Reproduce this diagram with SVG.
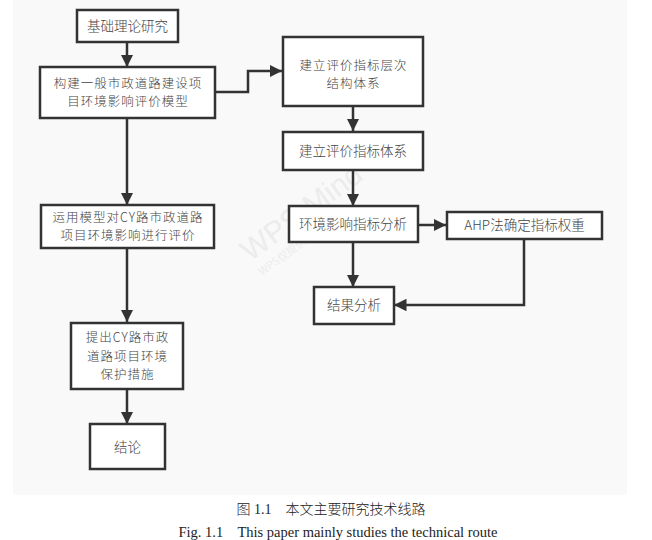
<svg xmlns="http://www.w3.org/2000/svg" width="652" height="540" viewBox="0 0 652 540">
<defs>
<style>
.box{fill:#fff;stroke:#333;stroke-width:2.5}
.t{font-family:"Noto Sans CJK SC","Microsoft YaHei",sans-serif;font-size:13.5px;fill:#444;text-anchor:middle;font-weight:300}
.m{font-size:12.5px;letter-spacing:1px}
.ln{fill:none;stroke:#333;stroke-width:2.5}
.cap{font-family:"Liberation Serif","Noto Sans CJK SC",serif;fill:#222;text-anchor:middle}
.wm{font-family:"Liberation Sans",sans-serif;fill:#ececec}
</style>
<marker id="ah" viewBox="0 0 10 10" refX="10" refY="5" markerWidth="5" markerHeight="5" orient="auto" markerUnits="strokeWidth">
<path d="M0,0 L10,5 L0,10 z" fill="#333"/>
</marker>
</defs>
<rect x="13" y="0" width="614" height="495" fill="#f9f9f9"/>
<g id="watermark">
<text class="wm" x="250" y="262" font-size="30" transform="rotate(-36 250 262)">WPS Mind</text>
<text class="wm" x="262" y="276" font-size="11" transform="rotate(-36 262 276)" style="font-family:'Noto Sans CJK SC',sans-serif">WPS仅提供作图能力</text>
</g>
<g id="connectors">
<line class="ln" x1="127" y1="42" x2="127" y2="67" marker-end="url(#ah)"/>
<polyline class="ln" points="215,92 248,92 248,71 282,71" marker-end="url(#ah)"/>
<line class="ln" x1="353" y1="106" x2="353" y2="131" marker-end="url(#ah)"/>
<line class="ln" x1="353" y1="170" x2="353" y2="206" marker-end="url(#ah)"/>
<line class="ln" x1="418" y1="225" x2="446" y2="225" marker-end="url(#ah)"/>
<line class="ln" x1="353" y1="242" x2="353" y2="287" marker-end="url(#ah)"/>
<polyline class="ln" points="524,239 524,305 394,305" marker-end="url(#ah)"/>
<line class="ln" x1="127" y1="118" x2="127" y2="205" marker-end="url(#ah)"/>
<line class="ln" x1="127" y1="248" x2="127" y2="322" marker-end="url(#ah)"/>
<line class="ln" x1="127" y1="389" x2="127" y2="424" marker-end="url(#ah)"/>
</g>
<g id="n1"><rect class="box" x="77" y="10" width="101" height="32"/><text class="t" x="127.5" y="31">基础理论研究</text></g>
<g id="n2"><rect class="box" x="40" y="67" width="175" height="51"/><text class="t m"><tspan x="128" y="87.5">构建一般市政道路建设项</tspan><tspan x="128" y="105.7">目环境影响评价模型</tspan></text></g>
<g id="n3"><rect class="box" x="283" y="37" width="140" height="69"/><text class="t m"><tspan x="353.5" y="70">建立评价指标层次</tspan><tspan x="353.5" y="88.2">结构体系</tspan></text></g>
<g id="n4"><rect class="box" x="283" y="132" width="140" height="38"/><text class="t" x="353" y="156">建立评价指标体系</text></g>
<g id="n5"><rect class="box" x="289" y="206" width="129" height="36"/><text class="t" x="353" y="229">环境影响指标分析</text></g>
<g id="n6"><rect class="box" x="447" y="212" width="155" height="27"/><text class="t" x="524.5" y="230">AHP法确定指标权重</text></g>
<g id="n7"><rect class="box" x="314" y="287" width="80" height="37"/><text class="t" x="354" y="310">结果分析</text></g>
<g id="n8"><rect class="box" x="41" y="205" width="173" height="43"/><text class="t m"><tspan x="128" y="222">运用模型对CY路市政道路</tspan><tspan x="128" y="240.2">项目环境影响进行评价</tspan></text></g>
<g id="n9"><rect class="box" x="71" y="323" width="112" height="66"/><text class="t m"><tspan x="127.5" y="342.3">提出CY路市政</tspan><tspan x="127.5" y="360.5">道路项目环境</tspan><tspan x="127.5" y="378.7">保护措施</tspan></text></g>
<g id="n10"><rect class="box" x="90" y="424" width="75" height="45"/><text class="t" x="127.5" y="452">结论</text></g>
<g id="caption">
<text class="cap" x="331" y="514" font-size="14" style="font-weight:300" xml:space="preserve">图 1.1    本文主要研究技术线路</text>
<text class="cap" x="338" y="537" font-size="14.5" xml:space="preserve">Fig. 1.1    This paper mainly studies the technical route</text>
</g>
</svg>
